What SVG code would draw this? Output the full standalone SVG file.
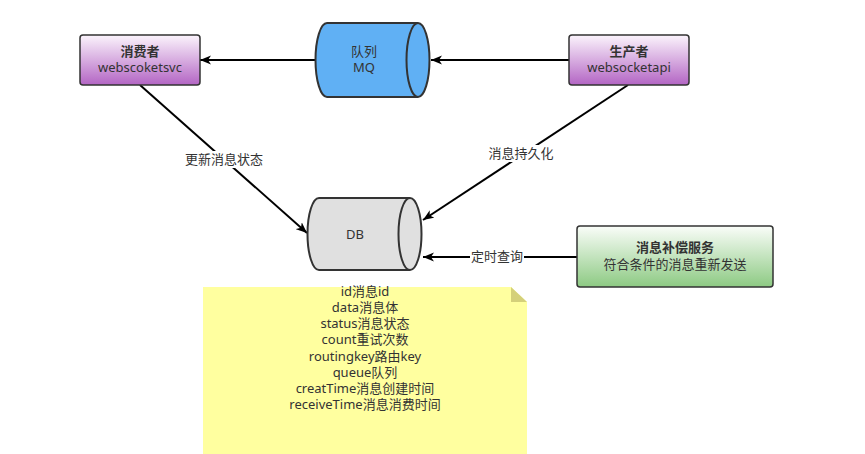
<svg xmlns="http://www.w3.org/2000/svg" width="865" height="454" viewBox="0 0 865 454">
<defs>
<linearGradient id="gPurple" x1="0" y1="0" x2="0" y2="1"><stop offset="0" stop-color="#fbf4fc"/><stop offset="1" stop-color="#b365c4"/></linearGradient>
<linearGradient id="gGreen" x1="0" y1="0" x2="0" y2="1"><stop offset="0" stop-color="#fafdf9"/><stop offset="1" stop-color="#8dca83"/></linearGradient>
<marker id="arrow" viewBox="0 0 12 10" refX="11" refY="5" markerWidth="12" markerHeight="10" orient="auto" markerUnits="userSpaceOnUse">
<path d="M0,0.5 L11,5 L0,9.5 L3,5 Z" fill="#000"/>
</marker>
</defs>
<style>
text{font-family:"Noto Sans","Noto Sans CJK SC",sans-serif;font-size:13px;fill:#333;text-anchor:middle}
.b{font-weight:bold}
.box{stroke:#333;stroke-width:1.5}
.cyl{stroke:#333;stroke-width:2}
.edge{stroke:#000;stroke-width:2;fill:none;marker-end:url(#arrow)}
.lbl{fill:#fff}
</style>
<rect width="865" height="454" fill="#fff"/>
<g id="connectors">
<line class="edge" x1="315" y1="60" x2="200" y2="60"/>
<line class="edge" x1="569" y1="60" x2="431" y2="60"/>
<line class="edge" x1="140" y1="85" x2="307" y2="233"/>
<line class="edge" x1="628" y1="85" x2="423" y2="220"/>
<line class="edge" x1="577" y1="257" x2="423" y2="257"/>
<rect class="lbl" x="182" y="151" width="84" height="17"/>
<text x="224" y="164">更新消息状态</text>
<rect class="lbl" x="486" y="145" width="70" height="17"/>
<text x="521" y="158">消息持久化</text>
<rect class="lbl" x="470" y="248" width="54" height="17"/>
<text x="497" y="261">定时查询</text>
</g>
<g id="consumer">
<rect class="box" x="80" y="35" width="120" height="50" rx="3" fill="url(#gPurple)"/>
<text class="b" x="140" y="56">消费者</text>
<text x="140" y="72">webscoketsvc</text>
</g>
<g id="queue">
<path class="cyl" d="M327,23 H418 A11.5,37 0 0 1 418,97 H327 A11.5,37 0 0 1 327,23 Z" fill="#60b0f4"/>
<path class="cyl" d="M418,23 A11.5,37 0 0 0 418,97" fill="none"/>
<text x="364" y="56">队列</text>
<text x="364" y="72">MQ</text>
</g>
<g id="producer">
<rect class="box" x="569" y="35" width="120" height="50" rx="3" fill="url(#gPurple)"/>
<text class="b" x="629" y="56">生产者</text>
<text x="629" y="72">websocketapi</text>
</g>
<g id="db">
<path class="cyl" d="M319,198 H410 A11.5,36 0 0 1 410,270 H319 A11.5,36 0 0 1 319,198 Z" fill="#e0e0e0"/>
<path class="cyl" d="M410,198 A11.5,36 0 0 0 410,270" fill="none"/>
<text x="355" y="239">DB</text>
</g>
<g id="compensation">
<rect class="box" x="577" y="226" width="196" height="61" rx="3" fill="url(#gGreen)"/>
<text class="b" x="675" y="252">消息补偿服务</text>
<text x="675" y="269">符合条件的消息重新发送</text>
</g>
<g id="note">
<path d="M203,287 H511 L527,302 V454 H203 Z" fill="#ffff9f"/>
<path d="M511,287 L527,302 H511 Z" fill="#d4d07a"/>
<text x="365" y="296">id消息id</text>
<text x="365" y="312">data消息体</text>
<text x="365" y="328">status消息状态</text>
<text x="365" y="344">count重试次数</text>
<text x="365" y="361">routingkey路由key</text>
<text x="365" y="377">queue队列</text>
<text x="365" y="393">creatTime消息创建时间</text>
<text x="365" y="409">receiveTime消息消费时间</text>
</g>
</svg>
